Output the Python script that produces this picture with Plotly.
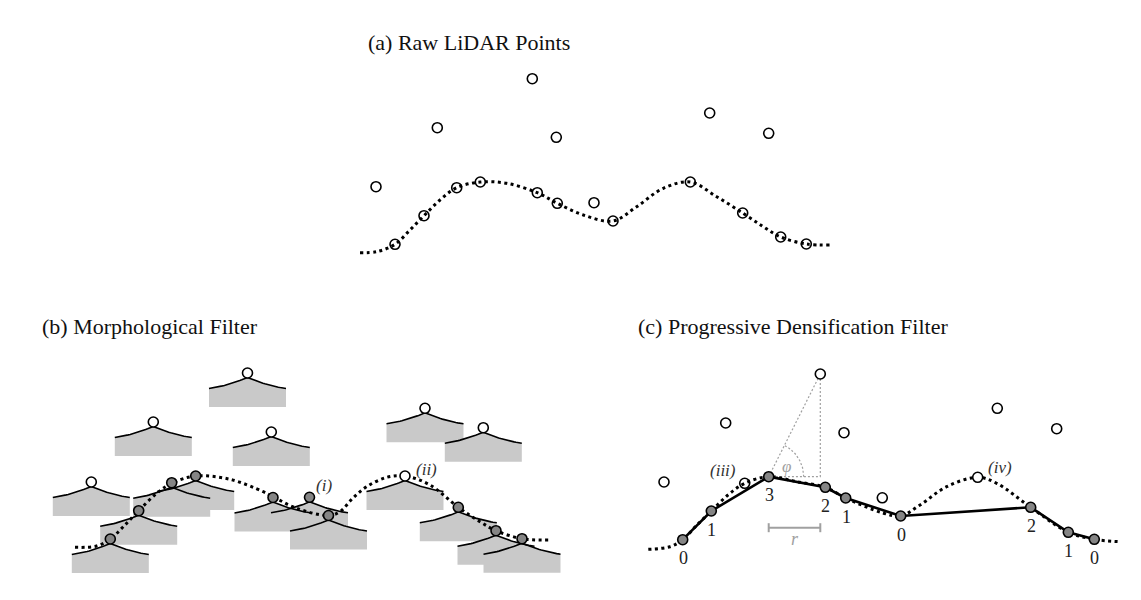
import numpy as np
import plotly.graph_objects as go

# ---------------- Panel (a): raw LiDAR points ----------------
a_obj_x = [376, 437.3, 532.3, 556.3, 594, 709.7, 768.7]
a_obj_y = [186.7, 127.7, 78.7, 137.3, 202.7, 113, 133.3]
a_gnd_x = [395, 424, 456.7, 480.3, 537.3, 557.3, 613, 690.3, 742.7, 780.7, 806.3]
a_gnd_y = [244.3, 215.7, 187.7, 182, 192.7, 203.3, 221, 182, 213, 237, 244]
a_terr_x = [360, 376.7, 395, 410, 424, 440, 456.7, 480.3, 506.7, 537.3, 557.3, 583.3,
            613, 636.7, 663.3, 690.3, 716.7, 742.7, 763.3, 780.7, 806.3, 830]
a_terr_y = [252.7, 251.7, 244.3, 230, 215.7, 200, 187.7, 182, 183.3, 192.7, 203.3, 215,
            221, 206.7, 188.3, 182, 196.7, 213, 226.7, 237, 244, 245]

# ---------------- Panel (b): morphological filter ----------------
b_x = [247.5, 153.3, 271.3, 91.3, 425, 483.3, 195.7, 171.7, 138.7, 110.3,
       273, 309.5, 328.5, 405, 458.3, 496, 522]
b_y = [373, 422, 432, 482, 408.3, 427.7, 476, 482.7, 510.7, 539,
       497.5, 497.3, 515.5, 476, 507.3, 530.7, 538.7]
b_ground = [False, False, False, False, False, False, True, True, True, True,
            True, True, True, False, True, True, True]
b_terr_x = [75, 96.7, 110.3, 123.3, 138.7, 156.7, 171.7, 195.7, 230, 263.3, 273, 296.7,
            328.5, 340, 353, 366.7, 386.7, 405, 430, 458.3, 480, 496, 522, 548.3]
b_terr_y = [547.3, 546, 539, 526.7, 510.7, 493.3, 483.3, 476, 479.3, 491.7, 496.7, 508.3,
            515.5, 511.7, 498, 486.7, 477.3, 476, 485, 507.3, 521.7, 530.7, 538.7, 540]

# ---------------- Panel (c): progressive densification ----------------
c_obj_x = [820.3, 725.7, 844, 664, 882.3, 744.7, 997.3, 1056.7, 977.7]
c_obj_y = [374, 423, 432.7, 482, 497.8, 483.3, 408.3, 428.7, 477.3]
c_gnd_x = [682.7, 711.3, 768.7, 825.3, 845.7, 900.7, 1030.7, 1068.3, 1094.3]
c_gnd_y = [539.7, 511, 476.7, 487.3, 498, 516, 507.3, 532.3, 539.3]
c_iter = ["0", "1", "3", "2", "1", "0", "2", "1", "0"]
c_terr_x = [648.3, 670, 682.7, 697, 711.3, 728, 744.7, 768.7, 796.7, 825.3, 845.7, 883,
            900.7, 920, 946.7, 977.7, 996.7, 1030.7, 1068.3, 1094.3, 1120]
c_terr_y = [549.3, 546.7, 539.7, 525, 511, 495, 483.3, 476.7, 481.7, 487.3, 498, 513,
            516, 505, 486.7, 477.3, 483.3, 507.3, 532.3, 539.3, 541.7]

titles = ["(a) Raw LiDAR Points", "(b) Morphological Filter",
          "(c) Progressive Densification Filter"]
title_x = [366, 40, 636]
title_y = [42, 326, 326]

SERIF = "Liberation Serif, Times New Roman, serif"
GRAY_PT = "#858585"
GRAY_EL = "#c9c9c9"
GRAY_AUX = "#a0a0a0"

fig = go.Figure()


def dotted(x, y):
    fig.add_trace(go.Scatter(x=x, y=y, mode="lines",
                             line=dict(color="black", width=3, dash="3px,3.5px",
                                       shape="spline", smoothing=1.0),
                             hoverinfo="skip"))


def pts(x, y, fill, open_=False, size=10):
    fig.add_trace(go.Scatter(x=x, y=y, mode="markers",
                             marker=dict(size=size, color=fill,
                                         symbol="circle-open" if open_ else "circle",
                                         line=dict(color="black", width=1.6)),
                             hoverinfo="skip"))


# ---- Panel (a)
dotted(a_terr_x, a_terr_y)
pts(a_obj_x, a_obj_y, "white")
fig.add_trace(go.Scatter(x=a_gnd_x, y=a_gnd_y, mode="markers",
                         marker=dict(size=10, symbol="circle-open", color="black",
                                     line=dict(width=1.6)), hoverinfo="skip"))

# ---- Panel (b): structuring elements beneath every point
EL_W, ARC_TOP, ARC_H, EL_BOT = 38.5, 4.5, 11.0, 34.0
t = np.linspace(-1, 1, 41)
prof = np.abs(t) * (1.5 - 0.5 * np.abs(t))
fx, fy, lx, ly = [], [], [], []
for cx, cy in zip(b_x, b_y):
    ax = cx + EL_W * t
    ay = cy + ARC_TOP + ARC_H * prof
    fx += list(ax) + [cx + EL_W, cx - EL_W, ax[0], None]
    fy += list(ay) + [cy + EL_BOT, cy + EL_BOT, ay[0], None]
    lx += list(ax) + [None]
    ly += list(ay) + [None]
fig.add_trace(go.Scatter(x=fx, y=fy, mode="lines", fill="toself", fillcolor=GRAY_EL,
                         line=dict(width=0, color=GRAY_EL), hoverinfo="skip"))
fig.add_trace(go.Scatter(x=lx, y=ly, mode="lines", line=dict(color="black", width=1.6),
                         hoverinfo="skip"))
dotted(b_terr_x, b_terr_y)
pts([x for x, g in zip(b_x, b_ground) if not g], [y for y, g in zip(b_y, b_ground) if not g], "white")
pts([x for x, g in zip(b_x, b_ground) if g], [y for y, g in zip(b_y, b_ground) if g], GRAY_PT)

# ---- Panel (c)
px0, py0 = c_gnd_x[2], c_gnd_y[2]
qx, qy = c_obj_x[0], c_obj_y[0]
aux = dict(color=GRAY_AUX, width=1.2, dash="2px,2px")
fig.add_trace(go.Scatter(x=[px0, qx, qx, px0], y=[py0, qy, py0, py0], mode="lines",
                         line=aux, hoverinfo="skip"))
R = 35.0
ang = np.arctan2(py0 - qy, qx - px0)
th = np.linspace(0, ang, 30)
fig.add_trace(go.Scatter(x=px0 + R * np.cos(th), y=py0 - R * np.sin(th), mode="lines",
                         line=aux, hoverinfo="skip"))
by = 527.7
fig.add_trace(go.Scatter(x=[px0, qx, None, px0, px0, None, qx, qx],
                         y=[by, by, None, by - 4.5, by + 4.5, None, by - 4.5, by + 4.5],
                         mode="lines", line=dict(color=GRAY_AUX, width=2), hoverinfo="skip"))

dotted(c_terr_x, c_terr_y)
fig.add_trace(go.Scatter(x=c_gnd_x, y=c_gnd_y, mode="lines",
                         line=dict(color="black", width=2.6), hoverinfo="skip"))
pts(c_obj_x[:5] + c_obj_x[6:], c_obj_y[:5] + c_obj_y[6:], "white")
fig.add_trace(go.Scatter(x=[c_obj_x[5]], y=[c_obj_y[5]], mode="markers",
                         marker=dict(size=10, symbol="circle-open", color="black",
                                     line=dict(width=1.6)), hoverinfo="skip"))
pts(c_gnd_x, c_gnd_y, GRAY_PT)

ann = []
for s, x, y in zip(titles, title_x, title_y):
    ann.append(dict(x=x, y=y, text=s, xanchor="left", yanchor="middle", showarrow=False,
                    font=dict(family=SERIF, size=22, color="#111")))
for s, x, y in zip(c_iter, c_gnd_x, c_gnd_y):
    ann.append(dict(x=x + 0.5, y=y + 18.5, text=s, showarrow=False,
                    font=dict(family=SERIF, size=18, color="#222")))
labels = [("(i)", 323.5, 485), ("(ii)", 426, 469), ("(iii)", 722.5, 470), ("(iv)", 999.5, 467.5)]
for s, x, y in labels:
    ann.append(dict(x=x, y=y, text="<i>" + s + "</i>", showarrow=False,
                    font=dict(family=SERIF, size=17, color="#333")))
ann.append(dict(x=786.7, y=466.5, text="<i>φ</i>", showarrow=False,
                font=dict(family=SERIF, size=17, color=GRAY_AUX)))
ann.append(dict(x=794.7, y=538.5, text="<i>r</i>", showarrow=False,
                font=dict(family=SERIF, size=18, color=GRAY_AUX)))

fig.update_layout(width=1141, height=600, margin=dict(l=0, r=0, t=0, b=0),
                  paper_bgcolor="white", plot_bgcolor="white", showlegend=False,
                  xaxis=dict(range=[0, 1141], visible=False, fixedrange=True),
                  yaxis=dict(range=[600, 0], visible=False, fixedrange=True),
                  annotations=ann)
fig.write_html("out.html", config={"displayModeBar": False},
               post_script="document.body.style.margin='0';document.body.style.overflow='hidden';")
